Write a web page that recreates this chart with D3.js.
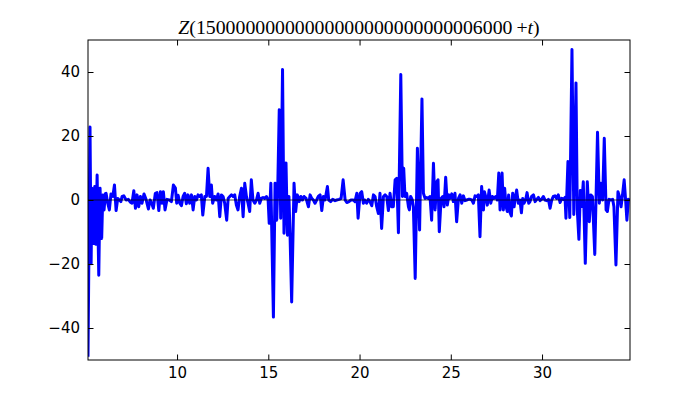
<!DOCTYPE html>
<html>
<head>
<meta charset="utf-8">
<script src="https://cdn.jsdelivr.net/npm/d3@7"></script>
<style>
  body { margin: 0; background: #fff; }
  .tick text { font-family: "DejaVu Sans", sans-serif; font-size: 15px; fill: #000; }
  .tick line { stroke: #000; stroke-width: 1; }
</style>
</head>
<body>
<svg id="chart" width="700" height="400"></svg>
<script>
// t values
var tVals = [
  5.12, 5.23, 5.29, 5.34, 5.42, 5.49, 5.54, 5.62, 5.71, 5.78, 5.87, 5.93, 6.00,
  6.07, 6.11, 6.20, 6.29, 6.38, 6.48, 6.57, 6.66, 6.75, 6.84, 6.92, 6.99,
  7.08, 7.21, 7.33, 7.44, 7.53, 7.63, 7.72, 7.81, 7.90, 7.99, 8.08, 8.19,
  8.30, 8.43, 8.52, 8.61, 8.70, 8.81, 8.90, 9.00, 9.09, 9.18, 9.25, 9.34,
  9.45, 9.58, 9.69, 9.80, 9.91, 9.98,
  10.06, 10.15, 10.24, 10.33, 10.42, 10.51, 10.60, 10.69, 10.79, 10.88, 10.97,
  11.06, 11.15, 11.24, 11.33, 11.41, 11.52, 11.61, 11.70, 11.79, 11.88, 11.95,
  12.06, 12.16, 12.25, 12.34, 12.43, 12.52, 12.61, 12.72, 12.80, 12.89, 12.98,
  13.07, 13.16, 13.25, 13.34, 13.43, 13.53, 13.62, 13.71, 13.80, 13.89, 13.98,
  14.07, 14.16, 14.26, 14.35, 14.44, 14.53, 14.62, 14.71, 14.80, 14.90, 14.99,
  15.05, 15.14, 15.28, 15.37, 15.46, 15.52, 15.60, 15.68, 15.78, 15.86, 15.97,
  16.05, 16.13, 16.19, 16.28, 16.41, 16.50, 16.59, 16.69, 16.78, 16.87, 16.96,
  17.07, 17.20, 17.29, 17.38, 17.47, 17.56, 17.65, 17.74, 17.84, 17.93,
  18.02, 18.11, 18.24, 18.31, 18.42, 18.53, 18.66, 18.75, 18.88, 18.99,
  19.10, 19.21, 19.30, 19.42, 19.53, 19.66, 19.75, 19.85, 19.92,
  20.03, 20.12, 20.21, 20.28, 20.39, 20.48, 20.57, 20.67, 20.76, 20.85, 20.94,
  21.03, 21.12, 21.21, 21.31, 21.40, 21.49, 21.58, 21.67, 21.76, 21.85, 21.95,
  22.04, 22.13, 22.26, 22.35, 22.42, 22.49, 22.58, 22.68, 22.73, 22.80, 22.89, 22.95,
  23.05, 23.17, 23.29, 23.42, 23.50, 23.59, 23.68, 23.77, 23.86, 23.95,
  24.05, 24.14, 24.23, 24.30, 24.37, 24.47, 24.56, 24.63, 24.72, 24.81, 24.90, 24.96,
  25.05, 25.14, 25.23, 25.32, 25.42, 25.51, 25.60, 25.69, 25.78, 25.87, 25.96,
  26.06, 26.15, 26.24, 26.33, 26.42, 26.51, 26.60, 26.69, 26.79, 26.84, 26.91,
  27.00, 27.10, 27.19, 27.28, 27.37, 27.46, 27.55, 27.63, 27.70, 27.81, 27.88, 27.95,
  28.03, 28.10, 28.17, 28.25, 28.32, 28.39, 28.47, 28.54, 28.61, 28.70, 28.79, 28.87, 28.94,
  29.01, 29.10, 29.18, 29.27, 29.34, 29.43, 29.53, 29.62, 29.71, 29.80, 29.89, 29.98,
  30.07, 30.16, 30.26, 30.35, 30.44, 30.53, 30.62, 30.71, 30.80, 30.89, 30.99,
  31.08, 31.17, 31.26, 31.31, 31.42, 31.52, 31.64, 31.74, 31.86, 31.93,
  32.02, 32.10, 32.17, 32.26, 32.37, 32.48, 32.59, 32.67, 32.76, 32.89,
  33.04, 33.14, 33.23, 33.32, 33.41, 33.51, 33.58, 33.67, 33.76, 33.87, 33.94,
  34.05, 34.16, 34.24, 34.33, 34.42, 34.50, 34.58, 34.65, 34.73, 34.82
];

// Z(t) values, same order
var zVals = [
  -49, 22.8, -19.9, 3.7, -13.6, 4.2, -13.8, 7.8, -23.5, 3.7, -12, 1.6, -3.1,
  2.0, 2.1, -1.0, -3.1, 1.9, 1.1, 4.7, -3.3, 0.5, 0.0, -0.5, 1.1,
  1.3, 0.0, 0.2, -0.7, -1.0, 2.9, -2.6, 1.6, -2.1, 1.1, -1.0, 1.9,
  0.2, -2.8, 0.0, -1.0, -2.6, 2.1, 2.3, -3.3, 2.6, -1.0, 2.6, -3.1,
  0.2, 0.0, -0.5, 4.7, 3.7, -1.0,
  1.5, -1.0, -1.8, 1.1, 2.1, -1.2, 1.6, -1.0, 1.6, -3.1, 1.1,
  0.0, 1.6, 1.1, 1.6, -4.7, 1.1, 1.1, 9.9, 1.1, 4.7, -1.0,
  1.1, 0.0, 1.9, -5.2, 1.6, 1.1, -1.0, -6.3, 0.5, 1.1, 1.6,
  1.1, 1.6, -1.6, -3.1, 1.1, 3.7, -5.2, 5.2, 1.1, -1.0, -3.6,
  6.3, 0.0, -1.0, 0.0, 2.1, -1.0, 0.5, 0.8, 0.5, 1.1, 0.0,
  -7.3, 5.2, -36.6, 5.2, -6.3, 4.5, 28.2, -5.7, 40.8, -10.4, 11.6,
  -11.0, 1.1, -10.5, -31.9, 5.2, -3.6, 1.6, -0.5, 1.1, 0.0, 1.1,
  0.5, -2.1, 1.6, 0.5, 0.0, -1.0, 0.0, 1.1, 1.6, -3.3,
  1.1, 0.0, 4.2, 0.0, -0.5, 0.2, -0.2, 0.0, 0.2, 0.5,
  6.3, 0.0, -0.8, -0.5, 0.0, 0.0, -0.5, 2.1, -5.7,
  2.1, 2.6, -1.0, 0.0, -1.0, 0.2, -0.5, -1.8, 1.6, 1.1, -2.1,
  -4.2, 2.1, -8.9, 1.1, 1.6, 1.1, -3.3, 2.1, -2.1, -2.1, 6.3,
  6.8, -10.2, 39.2, 1.1, 9.9, 1.1, 2.1, -2.1, -3.1, 1.1, 0.0, -2.1,
  -24.5, 16.2, -9.4, 31.6, 2.1, 0.5, 0.8, 0.5, 1.1, -6.3,
  11.5, -3.1, 5.7, 6.3, -9.9, 0.5, 1.1, -2.1, 7.1, -1.6, 1.6, 0.5,
  1.9, -0.5, 2.1, -6.8, 0.5, 1.6, -1.0, 1.3, -0.2, 0.0, 0.2,
  0.2, 0.0, -1.0, 1.3, 1.1, 1.6, -11.5, 4.2, -3.1, 2.6, 1.1,
  -1.6, 3.1, -1.0, 1.1, 0.5, 1.1, 0.0, 8.4, -3.1, 8.4, -3.1, 3.7,
  -2.1, -3.6, 1.6, -4.0, -5.0, 2.1, -2.1, 1.1, 3.1, -1.0, 0.0, -4.0, 0.5,
  -1.0, 0.0, 2.3, -1.0, -0.5, 1.1, 1.6, -0.5, 0.2, 0.8, -0.2, 0.2,
  1.1, 0.0, -0.2, 0.2, -2.6, 0.0, 1.1, 1.3, 0.5, 1.6, -0.8,
  0.5, 0.2, 0.8, -5.7, 12.0, -5.5, 47.0, -4.5, 36.6, -3.0,
  -12.3, 3.0, -2.0, 5.7, -19.8, 5.7, -6.8, 1.6, 1.1, -17.0,
  21.2, -1.0, 5.2, 0.0, 19.3, -3.1, -3.6, 0.2, 0.0, 0.2, -2.1,
  -20.3, 2.6, 1.1, -2.1, 2.1, 6.3, 0.0, -6.3, 0.2, 0.0
];

var xTicks = [10, 15, 20, 25, 30];
var yTicks = [-40, -20, 0, 20, 40];
var yRange = [-50, 50];
var titleDigits = "15" + "00000000000000000000000000" + "6000";

var margin = {left: 88, right: 70, top: 40, bottom: 40};
var W = 700, H = 400;
var svg = d3.select("#chart");

var data = tVals.map(function(t, i) { return {t: t, z: zVals[i]}; });

var x = d3.scaleLinear()
  .domain(d3.extent(tVals))
  .range([margin.left, W - margin.right]);
var y = d3.scaleLinear()
  .domain(yRange)
  .range([H - margin.bottom, margin.top]);

svg.append("defs").append("clipPath").attr("id", "plotclip")
  .append("rect")
    .attr("x", margin.left).attr("y", margin.top)
    .attr("width", W - margin.left - margin.right)
    .attr("height", H - margin.top - margin.bottom);

var line = d3.line()
  .x(function(d) { return x(d.t); })
  .y(function(d) { return y(d.z); });

svg.append("path")
  .datum(data)
  .attr("clip-path", "url(#plotclip)")
  .attr("d", line)
  .attr("fill", "none")
  .attr("stroke", "#0000ff")
  .attr("stroke-width", 3)
  .attr("stroke-linejoin", "round");

// zero line
svg.append("line")
  .attr("x1", margin.left).attr("x2", W - margin.right)
  .attr("y1", y(0)).attr("y2", y(0))
  .attr("stroke", "#000").attr("stroke-width", 0.7);

var tk = 5.5;
var gx = svg.append("g")
  .attr("transform", "translate(0," + (H - margin.bottom) + ")")
  .call(d3.axisBottom(x).tickValues(xTicks).tickSize(-tk).tickSizeOuter(0).tickPadding(7));
var gxt = svg.append("g")
  .attr("transform", "translate(0," + margin.top + ")")
  .call(d3.axisTop(x).tickValues(xTicks).tickSize(-tk).tickSizeOuter(0).tickFormat(""));
var gy = svg.append("g")
  .attr("transform", "translate(" + margin.left + ",0)")
  .call(d3.axisLeft(y).tickValues(yTicks).tickSize(-tk).tickSizeOuter(0).tickPadding(8));
var gyr = svg.append("g")
  .attr("transform", "translate(" + (W - margin.right) + ",0)")
  .call(d3.axisRight(y).tickValues(yTicks).tickSize(-tk).tickSizeOuter(0).tickFormat(""));

[gx, gxt, gy, gyr].forEach(function(g) { g.select(".domain").remove(); });

// frame
svg.append("rect")
  .attr("x", margin.left).attr("y", margin.top)
  .attr("width", W - margin.left - margin.right)
  .attr("height", H - margin.top - margin.bottom)
  .attr("fill", "none").attr("stroke", "#000").attr("stroke-width", 1);

// title
var title = svg.append("text")
  .attr("x", (margin.left + W - margin.right) / 2)
  .attr("y", 34)
  .attr("text-anchor", "middle")
  .style("font-family", "'Liberation Serif', serif")
  .style("font-size", "19.8px");
title.append("tspan").style("font-style", "italic").text("Z");
title.append("tspan").text("(" + titleDigits + "\u2009+");
title.append("tspan").style("font-style", "italic").text("t");
title.append("tspan").text(")");
</script>
</body>
</html>
